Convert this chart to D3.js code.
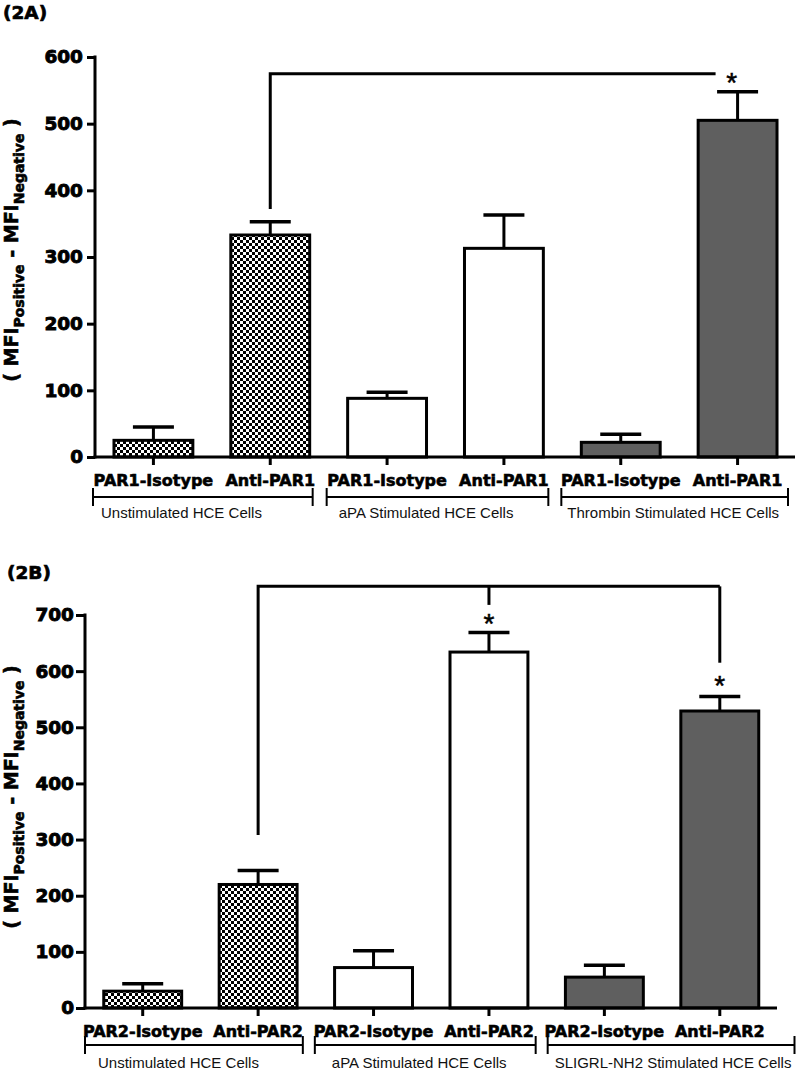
<!DOCTYPE html>
<html><head><meta charset="utf-8">
<script src="https://cdn.jsdelivr.net/npm/d3@7"></script>
<style>body{margin:0;background:#fff}</style>
</head><body><svg id="c" width="797" height="1072" xmlns="http://www.w3.org/2000/svg"></svg>
<script>
// ---------- data ----------
const categoriesA = ["PAR1-Isotype","Anti-PAR1","PAR1-Isotype","Anti-PAR1","PAR1-Isotype","Anti-PAR1"];
const meansA = [25, 333, 88, 313, 22, 505];
const errorsA = [20, 20, 9, 50, 12, 43];
const groupsA = ["Unstimulated HCE Cells","aPA Stimulated HCE Cells","Thrombin Stimulated HCE Cells"];
const ticksA = [0,100,200,300,400,500,600];

const categoriesB = ["PAR2-Isotype","Anti-PAR2","PAR2-Isotype","Anti-PAR2","PAR2-Isotype","Anti-PAR2"];
const meansB = [30, 220, 72, 634, 55, 529];
const errorsB = [13, 25, 30, 35, 21, 26];
const groupsB = ["Unstimulated HCE Cells","aPA Stimulated HCE Cells","SLIGRL-NH2 Stimulated HCE Cells"];
const ticksB = [0,100,200,300,400,500,600,700];

const fills = ["check","check","white","white","gray","gray"];

// significance brackets (data units)
const bracketA = {from:1, top:575, fromBottom:372, drops:[], stars:[{at:5, y:571, dx:-6}], stopShortOf:5};
const bracketB = {from:1, top:751, fromBottom:308, drops:[{at:3, bottom:718},{at:5, bottom:615}], stars:[{at:3, y:697, dx:0},{at:5, y:586, dx:0}], stopShortOf:null};

// ---------- drawing ----------
const svg = d3.select("#c");
const defs = svg.append("defs");
const pat = defs.append("pattern").attr("id","chk").attr("patternUnits","userSpaceOnUse")
  .attr("width",6).attr("height",6);
pat.append("rect").attr("width",6).attr("height",6).attr("fill","#fff");
pat.append("rect").attr("width",3).attr("height",3).attr("fill","#000");
pat.append("rect").attr("x",3).attr("y",3).attr("width",3).attr("height",3).attr("fill","#000");

const fillColor = f => f==="check" ? "url(#chk)" : f==="gray" ? "#5f5f5f" : "#fff";
const BOLD = "'DejaVu Sans', sans-serif";
const REG = "'Liberation Sans', Arial, sans-serif";
const heavy = (sel, w) => sel.attr("font-family",BOLD).attr("font-weight","bold").attr("fill","#000")
  .attr("stroke","#000").attr("stroke-width",w).attr("paint-order","stroke");

function panel(cfg){
  const {cats, means, errs, groups, ticks, yMax, yRange, xRange, axisEnd, brk, label, labelY, titleY, groupAdj} = cfg;
  const g = svg.append("g");
  const x = d3.scaleBand().domain(d3.range(cats.length)).range(xRange).paddingInner(0.325).paddingOuter(0.1625);
  const y = d3.scaleLinear().domain([0,yMax]).range(yRange);
  const x0 = xRange[0], yb = yRange[0];

  // panel label
  heavy(g.append("text").attr("x", cfg.labelX).attr("y", labelY).attr("font-size",18.5), 0.7).text(label);

  // bars
  g.selectAll("rect.bar").data(means).join("rect").attr("class","bar")
    .attr("x",(d,i)=>x(i)).attr("width",x.bandwidth())
    .attr("y",d=>y(d)).attr("height",d=>yb-y(d))
    .attr("fill",(d,i)=>fillColor(fills[i])).attr("stroke","#000").attr("stroke-width",3);

  // error bars (upper only)
  const eb = g.selectAll("g.eb").data(means).join("g").attr("class","eb");
  eb.append("line").attr("x1",(d,i)=>x(i)+x.bandwidth()/2).attr("x2",(d,i)=>x(i)+x.bandwidth()/2)
    .attr("y1",d=>y(d)).attr("y2",(d,i)=>y(d+errs[i])).attr("stroke","#000").attr("stroke-width",3);
  eb.append("line").attr("x1",(d,i)=>x(i)+x.bandwidth()/2-20.5).attr("x2",(d,i)=>x(i)+x.bandwidth()/2+20.5)
    .attr("y1",(d,i)=>y(d+errs[i])).attr("y2",(d,i)=>y(d+errs[i])).attr("stroke","#000").attr("stroke-width",3.5);

  // y axis
  const ya = g.append("g").attr("transform",`translate(${x0},0)`)
    .call(d3.axisLeft(y).tickValues(ticks).tickSize(cfg.yTick).tickSizeOuter(0).tickPadding(cfg.yPad));
  ya.select(".domain").attr("stroke-width",3).attr("d",`M0,${yb+1.5}V${y(yMax)-1.5}`);
  ya.selectAll(".tick line").attr("stroke-width",3);
  heavy(ya.selectAll(".tick text").attr("font-size",18.5), 0.9);

  // x axis
  const xa = g.append("g").attr("transform",`translate(0,${yb})`)
    .call(d3.axisBottom(x).tickSize(8).tickSizeOuter(0).tickPadding(9.5).tickFormat(i=>cats[i]));
  xa.select(".domain").attr("stroke-width",3).attr("d",`M${x0-1.5},0H${axisEnd}`);
  xa.selectAll(".tick line").attr("stroke-width",3);
  heavy(xa.selectAll(".tick text").attr("font-size",16), 0.6);

  // group brackets
  const step = x.step();
  groups.forEach((name, k) => {
    const s = x0 + k*2*step + groupAdj[k][0];
    const e = x0 + (k+1)*2*step + groupAdj[k][1];
    const gy = yb + cfg.groupLineOff;
    const gg = g.append("g").attr("stroke","#000").attr("stroke-width",2);
    gg.append("line").attr("x1",s).attr("x2",e).attr("y1",gy).attr("y2",gy);
    gg.append("line").attr("x1",s).attr("x2",s).attr("y1",gy-9).attr("y2",gy+9);
    gg.append("line").attr("x1",e).attr("x2",e).attr("y1",gy-9).attr("y2",gy+9);
    g.append("text").attr("x", s + groupAdj[k][2]).attr("y", yb + cfg.groupTextOff)
      .attr("font-family",REG).attr("font-size",15).attr("fill","#111").text(name);
  });

  // significance bracket
  const cx = i => x(i)+x.bandwidth()/2;
  const topY = y(brk.top);
  const endX = brk.stopShortOf!=null ? cx(brk.stopShortOf)-22 : cx(brk.drops[brk.drops.length-1].at);
  const bg = g.append("g").attr("fill","none").attr("stroke","#000").attr("stroke-width",3);
  bg.append("path").attr("d",`M${cx(brk.from)},${y(brk.fromBottom)}V${topY}H${endX}`)
    .attr("stroke-linejoin","miter");
  brk.drops.forEach(dp => bg.append("line").attr("x1",cx(dp.at)).attr("x2",cx(dp.at)).attr("y1",topY).attr("y2",y(dp.bottom)));
  brk.stars.forEach(st => g.append("text").attr("x",cx(st.at)+st.dx).attr("y",y(st.y)+16)
    .attr("text-anchor","middle").attr("font-family",REG).attr("font-size",28)
    .attr("stroke","#000").attr("stroke-width",0.5).text("*"));

  // y title
  const t = heavy(g.append("text").attr("transform",`translate(${cfg.titleX},${titleY}) rotate(-90)`)
    .attr("text-anchor","middle").attr("font-size",19), 0.6);
  t.append("tspan").text("( MFI");
  t.append("tspan").attr("font-size",14).attr("dy",6).text("Positive");
  t.append("tspan").attr("dy",-6).text(" - MFI");
  t.append("tspan").attr("font-size",14).attr("dy",6).text("Negative");
  t.append("tspan").attr("dy",-6).text(" )");
}

panel({cats:categoriesA, means:meansA, errs:errorsA, groups:groupsA, ticks:ticksA, yMax:600,
  yRange:[457,57], xRange:[95,796], axisEnd:795, brk:bracketA, label:"(2A)", labelX:3, labelY:19,
  titleX:18, titleY:250, yTick:8, yPad:4, groupLineOff:40, groupTextOff:61,
  groupAdj:[[-2,-16,8],[-2,-14,12],[-1,-8,6]]});

panel({cats:categoriesB, means:meansB, errs:errorsB, groups:groupsB, ticks:ticksB, yMax:700,
  yRange:[1008,615], xRange:[85,777.5], axisEnd:777, brk:bracketB, label:"(2B)", labelX:7, labelY:579,
  titleX:18, titleY:797, yTick:9, yPad:2, groupLineOff:37, groupTextOff:60,
  groupAdj:[[0,-13,13],[-1,-11,17],[1,17,7]]});
</script>
</body></html>
